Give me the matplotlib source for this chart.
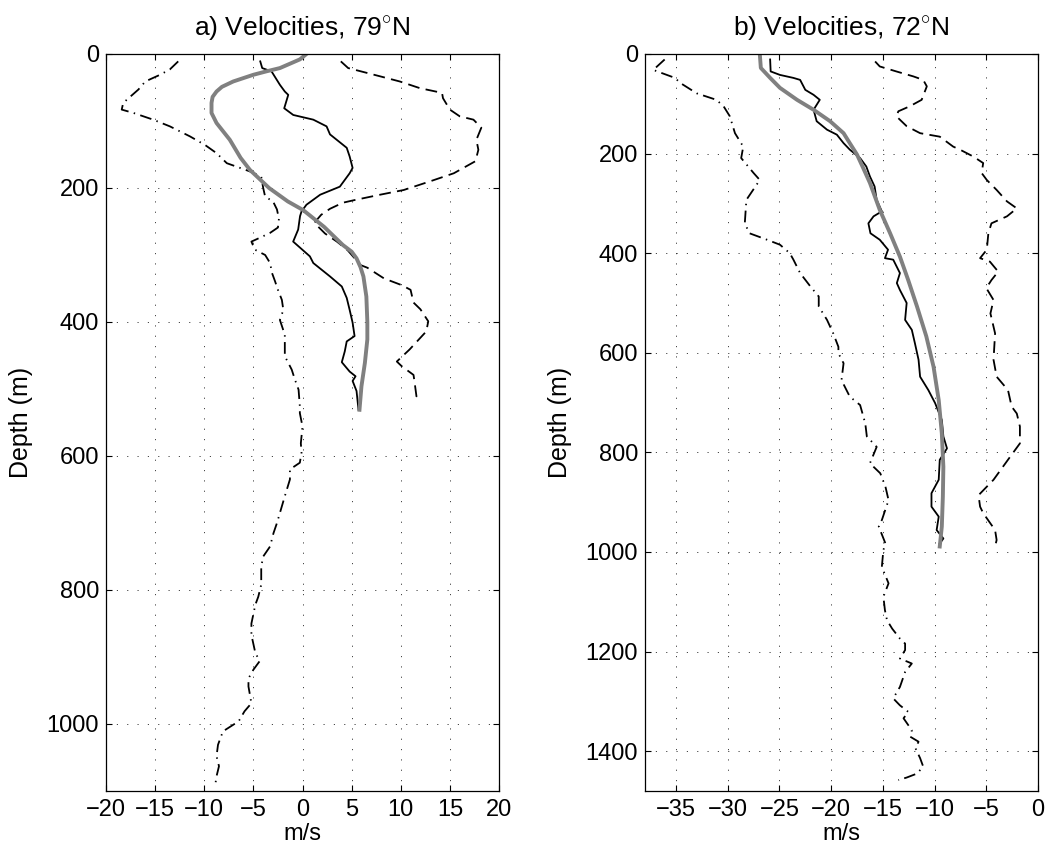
import numpy as np
import matplotlib
matplotlib.use("Agg")
import matplotlib.pyplot as plt

plt.rcParams['font.family'] = ['Liberation Sans', 'DejaVu Sans']
plt.rcParams['mathtext.fontset'] = 'custom'
plt.rcParams['mathtext.rm'] = 'Liberation Sans'

# ---------------- Panel a) 79N ----------------
a_solid_v = [-4.3, -4.1, -3.15, -2.3, -1.8, -1.45, -1.86, -0.94, 1.1, 2.45, 2.8, 4.5, 4.8, 5.1, 4.8,
             3.8, 1.8, 0.4, -0.1, -0.25, -0.44, -0.95, 0.75, 1.1, 2.8, 4.0, 4.5, 4.8, 5.1, 5.3, 4.5,
             4.3, 4.0, 4.8, 5.4, 5.1, 5.5, 5.7]
a_solid_d = [11, 21, 26, 46, 56, 61, 81, 91, 98, 108, 120, 140, 153, 170, 178,
             198, 210, 225, 235, 242, 262, 280, 302, 312, 332, 347, 364, 382, 401, 421, 429,
             444, 460, 474, 481, 488, 503, 531]

a_gray_v = [0.4, -0.26, -1.2, -2.3, -3.7, -5.0, -7.05, -8.2, -8.75, -9.15, -9.26, -9.26, -8.75,
            -7.4, -6.3, -5.35, -3.4, -1.5, 0.07, 2.2, 4.1, 5.0, 5.5, 5.9, 6.2, 6.5, 6.6, 6.6,
            6.35, 6.0, 5.8]
a_gray_d = [0, 8, 14, 21, 26, 31, 41, 49, 56, 64, 73, 88, 103,
            128, 155, 173, 200, 220, 233, 258, 285, 295, 305, 318, 332, 362, 400, 426,
            461, 496, 531]

a_dash_v = [3.9, 4.65, 6.5, 8.6, 9.9, 11.95, 14.2, 14.3, 15.0, 16.0, 17.4, 18.2, 17.7, 17.9, 17.6,
            15.4, 13.0, 10.3, 7.9, 5.3, 4.1, 2.8, 1.9, 1.2, 2.3, 3.5, 4.6, 5.9, 6.6, 8.3, 10.1,
            11.0, 11.3, 12.0, 12.8, 12.6, 10.9, 9.6, 10.1, 11.3, 11.4, 11.6, 11.3]
a_dash_d = [11, 21, 28, 36, 41, 51, 58, 66, 83, 93, 98, 110, 128, 143, 160,
            178, 190, 203, 210, 218, 222, 231, 240, 252, 268, 280, 293, 315, 319, 335, 345,
            352, 371, 381, 399, 414, 441, 459, 466, 479, 489, 511, 518]

a_dd_v = [-12.65, -13.5, -14.5, -16.0, -16.7, -18.25, -18.4, -17.2, -15.2, -13.5, -11.45, -9.9,
          -8.75, -7.7, -5.4, -4.2, -4.0, -3.8, -3.0, -2.6, -2.4, -2.5, -3.3, -4.3, -5.2, -4.85,
          -3.8, -3.3, -3.1, -2.8, -2.5, -2.1, -1.95, -2.3, -1.8, -1.8, -1.1, -0.77, -0.4, -0.27,
          -0.27, 0.0, -0.17, -0.1, -0.27, -1.28, -1.28, -1.8, -2.3, -2.6, -2.95, -3.3, -4.0,
          -4.2, -4.2, -4.5, -4.8, -5.2, -5.2, -4.8, -4.35, -5.0, -5.5, -5.5, -5.2, -5.9, -6.5,
          -8.1, -8.6, -8.75, -8.5, -8.75, -8.9]
a_dd_d = [11, 23, 31, 41, 53, 73, 83, 88, 98, 108, 123, 136,
          148, 163, 175, 183, 200, 213, 220, 232, 246, 259, 267, 274, 280, 292,
          300, 312, 327, 339, 352, 367, 382, 397, 419, 451, 471, 486, 501, 526,
          536, 556, 581, 595, 610, 620, 635, 660, 685, 700, 715, 735, 750,
          765, 792, 810, 822, 850, 867, 894, 906, 919, 932, 944, 969, 981, 996,
          1011, 1031, 1048, 1063, 1078, 1093]

# ---------------- Panel b) 72N ----------------
b_solid_v = [-25.9, -25.85, -24.95, -23.65, -23.0, -22.5, -21.7, -21.1, -21.7, -21.4, -20.4, -19.45,
             -18.8, -18.2, -17.2, -16.6, -16.25, -15.8, -15.6, -15.1, -15.9, -16.4, -16.2, -15.3,
             -14.5, -14.8, -14.0, -13.35, -13.65, -13.35, -12.7, -12.85, -12.2, -11.9, -11.55,
             -11.4, -10.6, -9.95, -9.3, -9.15, -8.8, -9.5, -9.6, -10.3, -10.3, -9.6, -9.8, -9.15,
             -9.5]
b_solid_d = [11, 35, 42, 48, 52, 72, 82, 92, 112, 135, 152, 162,
             179, 192, 209, 226, 246, 266, 293, 316, 326, 340, 360, 373,
             393, 410, 413, 440, 460, 474, 500, 534, 554, 581, 614,
             648, 675, 701, 735, 768, 792, 815, 855, 882, 909, 929, 956, 973,
             983]

b_gray_v = [-26.9, -26.8, -25.9, -24.95, -23.3, -21.7, -20.1, -18.8, -18.2, -17.5, -16.9, -16.25,
            -15.3, -14.3, -13.35, -12.55, -11.7, -10.8, -10.1, -9.6, -9.3, -9.15, -9.2, -9.3, -9.5]
b_gray_d = [0, 28, 48, 68, 92, 112, 135, 159, 179, 202, 229, 259,
            313, 360, 407, 454, 507, 567, 628, 695, 762, 829, 889, 949, 989]

b_dash_v = [-15.75, -15.3, -13.7, -12.05, -11.1, -10.75, -11.25, -12.4, -13.5, -13.7, -12.7, -11.4,
            -9.5, -8.2, -7.55, -6.25, -5.3, -5.45, -4.95, -4.0, -3.0, -2.05, -3.0, -4.5, -4.8,
            -4.95, -5.6, -4.65, -3.85, -4.5, -5.0, -4.3, -4.6, -4.15, -4.3, -4.0, -2.9, -2.55,
            -2.05, -1.75, -1.75, -2.7, -4.3, -5.75, -5.6, -5.3, -4.15, -4.0, -4.15]
b_dash_d = [15, 25, 35, 45, 52, 65, 92, 105, 115, 125, 145, 159,
            166, 186, 192, 206, 219, 239, 253, 273, 296, 310, 326, 340, 360,
            393, 410, 417, 437, 454, 470, 494, 521, 561, 614, 648, 675, 708,
            722, 748, 782, 809, 855, 886, 909, 922, 956, 976, 989]

b_dd_v = [-36.1, -37.2, -35.1, -34.6, -33.0, -31.1, -30.4, -29.8, -29.3, -28.5, -28.7, -27.5,
          -26.9, -28.2, -28.35, -27.9, -26.2, -24.95, -24.0, -23.65, -23.0, -22.0, -21.2, -21.2,
          -20.4, -19.8, -19.3, -19.3, -18.8, -19.0, -18.2, -17.2, -16.7, -16.55, -15.6, -16.25,
          -15.25, -14.75, -14.45, -15.1, -15.4, -14.75, -14.95, -15.1, -14.45, -14.95, -14.8,
          -14.6, -14.1, -13.35, -12.85, -12.85, -13.35, -12.2, -12.85, -13.35, -14.0, -13.35,
          -12.55, -13.0, -12.2, -12.35, -11.55, -11.85, -11.4, -11.1, -11.7, -12.7, -13.5]
b_dd_d = [11, 32, 48, 58, 79, 92, 105, 125, 159, 186, 209, 239,
          253, 293, 340, 360, 373, 383, 400, 413, 440, 467, 487, 507,
          534, 561, 588, 601, 621, 655, 688, 705, 742, 768, 789, 822,
          842, 869, 896, 936, 949, 983, 996, 1030, 1063, 1090, 1117,
          1137, 1154, 1174, 1184, 1197, 1214, 1224, 1241, 1271, 1294, 1308,
          1321, 1334, 1358, 1371, 1381, 1394, 1414, 1431, 1445, 1453, 1458]

a_xticks = [-20, -15, -10, -5, 0, 5, 10, 15, 20]
a_yticks = [0, 200, 400, 600, 800, 1000]
b_xticks = [-35, -30, -25, -20, -15, -10, -5, 0]
b_yticks = [0, 200, 400, 600, 800, 1000, 1200, 1400]

titles = [r'a) Velocities, 79$^{\circ}$N', r'b) Velocities, 72$^{\circ}$N']

fig = plt.figure(figsize=(10.48, 8.56), dpi=100)
axA = fig.add_axes([106 / 1048, 1 - 791 / 856, 393 / 1048, 737 / 856])
axB = fig.add_axes([645 / 1048, 1 - 791 / 856, 393 / 1048, 737 / 856])

LW = 1.3
DASH = (0, (6.5, 3.5))
DASHDOT = (0, (6.5, 3.0, 0.8, 3.0))
GRAY = '#808080'

def style(ax, xlim, ylim, xt, yt, title):
    ax.set_xlim(*xlim)
    ax.set_ylim(ylim[1], ylim[0])
    ax.set_xticks(xt)
    ax.set_yticks(yt)
    ax.set_xticklabels([str(t).replace('-', '\u2212') for t in xt])
    ax.set_yticklabels([str(t) for t in yt])
    ax.grid(True, color='0.15', linestyle=(0, (1.4, 11.0)), linewidth=0.6)
    ax.tick_params(direction='in', length=4.5, width=0.8, top=True, right=True,
                   labelsize=17, pad=6)
    ax.tick_params(axis='y', pad=5)
    for s in ax.spines.values():
        s.set_linewidth(0.9)
    ax.set_xlabel('m/s', fontsize=17, labelpad=1)
    ax.set_ylabel('Depth (m)', fontsize=18)
    ax.yaxis.set_label_coords(-0.186, 0.5)
    ax.set_title(title, fontsize=19, pad=13)

axA.plot(a_dd_v, a_dd_d, color='k', lw=LW, linestyle=DASHDOT)
axA.plot(a_dash_v, a_dash_d, color='k', lw=LW, linestyle=DASH)
axA.plot(a_solid_v, a_solid_d, color='k', lw=LW)
axA.plot(a_gray_v, a_gray_d, color=GRAY, lw=2.8, solid_joinstyle='round')
style(axA, (-20, 20), (0, 1100), a_xticks, a_yticks, titles[0])

axB.plot(b_dd_v, b_dd_d, color='k', lw=LW, linestyle=DASHDOT)
axB.plot(b_dash_v, b_dash_d, color='k', lw=LW, linestyle=DASH)
axB.plot(b_solid_v, b_solid_d, color='k', lw=LW)
axB.plot(b_gray_v, b_gray_d, color=GRAY, lw=2.8, solid_joinstyle='round')
style(axB, (-38, 0), (0, 1480), b_xticks, b_yticks, titles[1])

fig.savefig('out.png', dpi=100)
